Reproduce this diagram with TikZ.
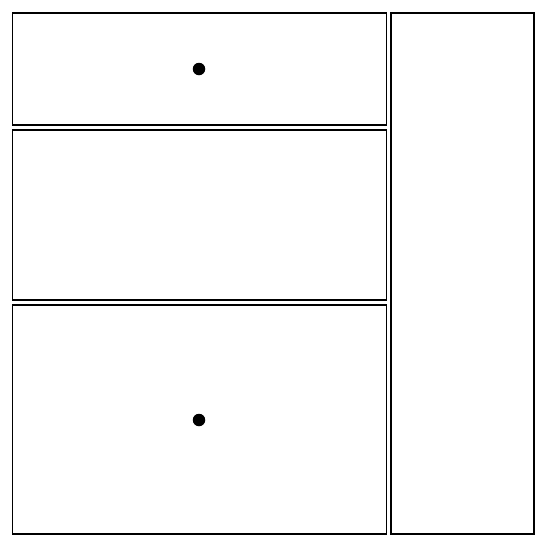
\documentclass[tikz,border=0pt]{standalone}
\begin{document}
\begin{tikzpicture}[x=1pt,y=-1pt,
  panel/.style={draw=black,line width=1.1pt,fill=white,inner sep=0pt,outer sep=0pt,anchor=north west},
  dot/.style={circle,fill=black,inner sep=0pt,minimum size=12.5pt}]
\useasboundingbox[fill=white] (0,0) rectangle (547,547);
\node[panel,minimum width=374pt,minimum height=112pt] (top) at (12.5,13) {};
\node[panel,minimum width=374pt,minimum height=170pt] (mid) at (12.5,130) {};
\node[panel,minimum width=374pt,minimum height=229pt] (bot) at (12.5,305) {};
\node[panel,minimum width=143pt,minimum height=521pt] (right) at (391,13) {};
\node[dot] (d1) at (199,69) {};
\node[dot] (d2) at (199,420) {};
\end{tikzpicture}
\end{document}
